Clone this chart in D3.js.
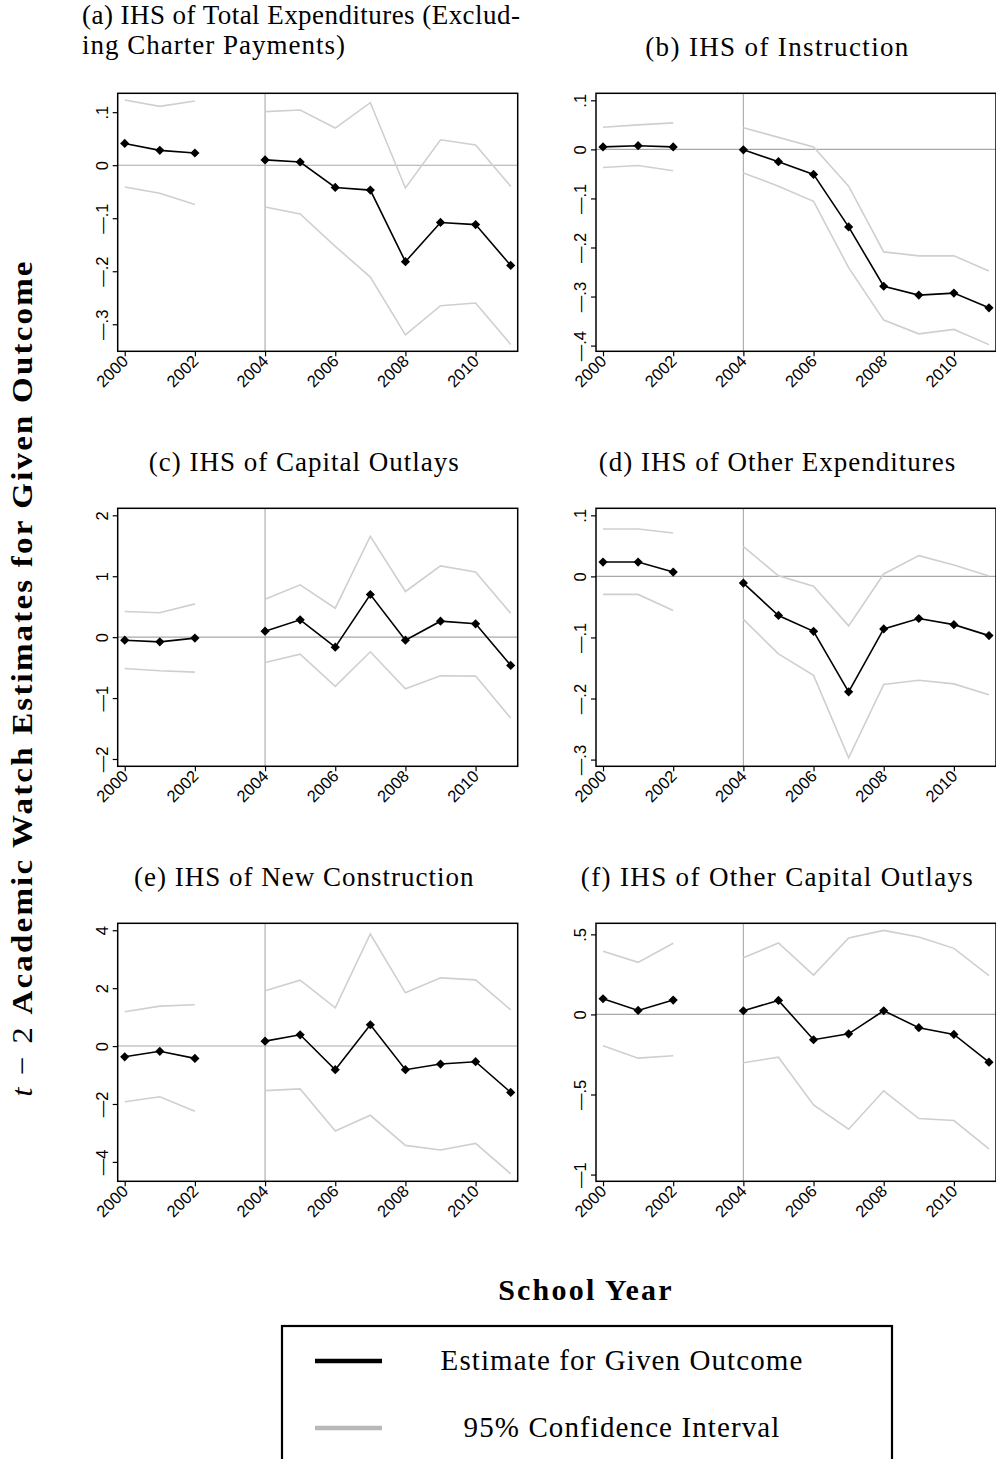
<!DOCTYPE html>
<html>
<head>
<meta charset="utf-8">
<script src="https://cdn.jsdelivr.net/npm/d3@7"></script>
<style>
  html, body { margin: 0; padding: 0; background: #fff; }
  svg { display: block; }
</style>
</head>
<body>
<svg id="chart" width="996" height="1459"></svg>
<script>
// School years in the event-study window (2003 is the omitted base year)
const years = [2000, 2001, 2002, 2004, 2005, 2006, 2007, 2008, 2009, 2010, 2011];
const xTicks = [2000, 2002, 2004, 2006, 2008, 2010];

// (a) IHS of total expenditures (excluding charter payments)
const estA = [0.041, 0.028, 0.023, 0.010, 0.006, -0.042, -0.047, -0.182, -0.108, -0.112, -0.189];
const hiA  = [0.123, 0.111, 0.121, 0.101, 0.104, 0.070, 0.118, -0.043, 0.048, 0.038, -0.040];
const loA  = [-0.041, -0.053, -0.074, -0.079, -0.092, -0.153, -0.211, -0.320, -0.265, -0.260, -0.338];

// (b) IHS of instruction
const estB = [0.005, 0.0075, 0.005, -0.001, -0.025, -0.051, -0.158, -0.279, -0.297, -0.293, -0.323];
const hiB  = [0.045, 0.050, 0.054, 0.044, 0.0245, 0.005, -0.075, -0.209, -0.217, -0.217, -0.248];
const loB  = [-0.037, -0.033, -0.0435, -0.048, -0.075, -0.106, -0.241, -0.348, -0.376, -0.367, -0.398];

// (c) IHS of capital outlays
const estC = [-0.05, -0.077, -0.016, 0.098, 0.284, -0.164, 0.70, -0.05, 0.262, 0.219, -0.464];
const hiC  = [0.42, 0.40, 0.546, 0.623, 0.858, 0.475, 1.656, 0.749, 1.169, 1.071, 0.393];
const loC  = [-0.514, -0.552, -0.574, -0.415, -0.279, -0.809, -0.240, -0.847, -0.634, -0.639, -1.328];

// (d) IHS of other expenditures
const estD = [0.0235, 0.0235, 0.0071, -0.011, -0.064, -0.090, -0.189, -0.086, -0.069, -0.079, -0.097];
const hiD  = [0.0776, 0.0776, 0.071, 0.0486, 0.001, -0.016, -0.081, 0.004, 0.034, 0.0186, 0.0005];
const loD  = [-0.0295, -0.0295, -0.056, -0.0705, -0.127, -0.162, -0.297, -0.177, -0.170, -0.176, -0.194];

// (e) IHS of new construction
const estE = [-0.37, -0.18, -0.425, 0.17, 0.39, -0.816, 0.736, -0.816, -0.62, -0.54, -1.60];
const hiE  = [1.184, 1.38, 1.425, 1.908, 2.276, 1.32, 3.87, 1.84, 2.356, 2.287, 1.253];
const loE  = [-1.92, -1.75, -2.25, -1.54, -1.48, -2.93, -2.39, -3.43, -3.59, -3.36, -4.41];

// (f) IHS of other capital outlays
const estF = [0.098, 0.025, 0.0896, 0.023, 0.0875, -0.158, -0.121, 0.023, -0.083, -0.125, -0.298];
const hiF  = [0.394, 0.325, 0.444, 0.354, 0.446, 0.246, 0.477, 0.525, 0.483, 0.4125, 0.242];
const loF  = [-0.196, -0.273, -0.258, -0.302, -0.267, -0.565, -0.717, -0.477, -0.650, -0.6625, -0.840];

// Panel titles
const titles = [
  ["(a) IHS of Total Expenditures (Exclud-", "ing Charter Payments)"],
  ["(b) IHS of Instruction"],
  ["(c) IHS of Capital Outlays"],
  ["(d) IHS of Other Expenditures"],
  ["(e) IHS of New Construction"],
  ["(f) IHS of Other Capital Outlays"]
];

// y tick values per panel
const yTicksA = [0.1, 0, -0.1, -0.2, -0.3];
const yTicksB = [0.1, 0, -0.1, -0.2, -0.3, -0.4];
const yTicksC = [2, 1, 0, -1, -2];
const yTicksD = [0.1, 0, -0.1, -0.2, -0.3];
const yTicksE = [4, 2, 0, -2, -4];
const yTicksF = [0.5, 0, -0.5, -1];

// y axis extents per panel
const yDomA = [-0.351, 0.1356];
const yDomB = [-0.4116, 0.1143];
const yDomC = [-2.12, 2.115];
const yDomD = [-0.311, 0.1115];
const yDomE = [-4.67, 4.24];
const yDomF = [-1.042, 0.569];

const legendLabels = ["Estimate for Given Outcome", "95% Confidence Interval"];

const panels = [
  { est: estA, hi: hiA, lo: loA, ticks: yTicksA, dom: yDomA },
  { est: estB, hi: hiB, lo: loB, ticks: yTicksB, dom: yDomB },
  { est: estC, hi: hiC, lo: loC, ticks: yTicksC, dom: yDomC },
  { est: estD, hi: hiD, lo: loD, ticks: yTicksD, dom: yDomD },
  { est: estE, hi: hiE, lo: loE, ticks: yTicksE, dom: yDomE },
  { est: estF, hi: hiF, lo: loF, ticks: yTicksF, dom: yDomF }
];

// ---- layout ----
const colX = [117.7, 596];
const rowY = [93.3, 508.3, 923.3];
const plotW = 400, plotH = 258;
const serif = "'Liberation Serif', 'Times New Roman', serif";
const sans = "'Liberation Sans', Arial, Helvetica, sans-serif";
const ciColor = "#cfcfcf";
const refColor = "#a9a9a9";

const svg = d3.select("#chart");

// Stata-style tick labels: no leading zero, long dash for negatives
function fmtTick(v) {
  let s = String(+v.toFixed(3));
  s = s.replace(/^(-?)0\./, "$1.");
  return s.replace("-", "\u2014");
}

const diamond = r => `M0,${-r}L${r},0L0,${r}L${-r},0Z`;

panels.forEach((p, i) => {
  const col = i % 2, row = Math.floor(i / 2);
  const x0 = colX[col], y0 = rowY[row];
  const g = svg.append("g").attr("transform", `translate(${x0},${y0})`);

  const x = d3.scaleLinear().domain([1999.8, 2011.2]).range([0, plotW]);
  const y = d3.scaleLinear().domain(p.dom).range([plotH, 0]);

  // reference lines at zero and at the 2004 break
  g.append("line")
    .attr("x1", 0).attr("x2", plotW)
    .attr("y1", y(0)).attr("y2", y(0))
    .attr("stroke", refColor).attr("stroke-width", 1.1);
  g.append("line")
    .attr("x1", x(2004)).attr("x2", x(2004))
    .attr("y1", 0).attr("y2", plotH)
    .attr("stroke", refColor).attr("stroke-width", 1.1);

  const rows = years.map((yr, k) => ({ yr, est: p.est[k], hi: p.hi[k], lo: p.lo[k] }));
  const segments = [rows.filter(d => d.yr < 2003), rows.filter(d => d.yr > 2003)];

  const lineOf = key => d3.line().x(d => x(d.yr)).y(d => y(d[key]));

  segments.forEach(seg => {
    ["hi", "lo"].forEach(k => {
      g.append("path").datum(seg)
        .attr("d", lineOf(k))
        .attr("fill", "none").attr("stroke", ciColor).attr("stroke-width", 1.6);
    });
    g.append("path").datum(seg)
      .attr("d", lineOf("est"))
      .attr("fill", "none").attr("stroke", "#000").attr("stroke-width", 1.6);
  });

  g.selectAll("path.mk").data(rows).join("path")
    .attr("class", "mk")
    .attr("transform", d => `translate(${x(d.yr)},${y(d.est)})`)
    .attr("d", diamond(4.6))
    .attr("fill", "#000");

  // y axis
  const yAxis = d3.axisLeft(y).tickValues(p.ticks).tickSize(5).tickFormat(fmtTick);
  const ya = g.append("g").call(yAxis);
  ya.select(".domain").remove();
  ya.selectAll(".tick line").attr("stroke", "#000").attr("stroke-width", 1.2);
  ya.selectAll(".tick text")
    .attr("x", null).attr("dy", null)
    .attr("transform", "translate(-10,0) rotate(-90)")
    .attr("text-anchor", "middle")
    .attr("font-family", sans).attr("font-size", 16.5).attr("fill", "#000");

  // x axis
  const xAxis = d3.axisBottom(x).tickValues(xTicks).tickSize(5).tickFormat(d3.format("d"));
  const xa = g.append("g").attr("transform", `translate(0,${plotH})`).call(xAxis);
  xa.select(".domain").remove();
  xa.selectAll(".tick line").attr("stroke", "#000").attr("stroke-width", 1.2);
  xa.selectAll(".tick text")
    .attr("y", null).attr("dy", null)
    .attr("transform", "translate(4,11) rotate(-45)")
    .attr("text-anchor", "end")
    .attr("font-family", sans).attr("font-size", 16.5).attr("fill", "#000");

  // frame
  g.append("rect")
    .attr("x", 0).attr("y", 0).attr("width", plotW).attr("height", plotH)
    .attr("fill", "none").attr("stroke", "#000").attr("stroke-width", 1.5);

  // title
  const t = titles[i];
  if (t.length === 2) {
    svg.append("text")
      .attr("x", 82).attr("font-family", serif).attr("font-size", 27)
      .attr("fill", "#000")
      .selectAll("tspan").data(t).join("tspan")
      .attr("x", 82).attr("y", (d, k) => 24 + k * 30)
      .attr("letter-spacing", (d, k) => k === 0 ? 0.45 : 1)
      .text(d => d);
  } else {
    svg.append("text")
      .attr("x", x0 + plotW / 2 - 13.5 + (col === 1 ? -5 : 0))
      .attr("y", y0 - 37)
      .attr("text-anchor", "middle")
      .attr("font-family", serif).attr("font-size", 27)
      .attr("letter-spacing", col === 1 && row !== 1 ? 1.35 : 1).attr("fill", "#000")
      .text(t[0]);
  }
});

// shared y-axis title
const yTitle = svg.append("text")
  .attr("transform", "translate(32,678) rotate(-90) scale(1.1,1)")
  .attr("text-anchor", "middle")
  .attr("font-family", serif).attr("font-size", 30).attr("letter-spacing", 2)
  .attr("fill", "#000");
yTitle.append("tspan").attr("font-style", "italic").text("t");
yTitle.append("tspan").text(" \u2212 2 ");
yTitle.append("tspan").attr("font-weight", "bold").text("Academic Watch Estimates for Given Outcome");

// shared x-axis title
svg.append("text")
  .attr("x", 586).attr("y", 1300)
  .attr("text-anchor", "middle")
  .attr("font-family", serif).attr("font-size", 30).attr("font-weight", "bold")
  .attr("letter-spacing", 2.2).attr("fill", "#000")
  .text("School Year");

// legend
const lg = svg.append("g");
lg.append("rect")
  .attr("x", 282).attr("y", 1326).attr("width", 610).attr("height", 170)
  .attr("fill", "#fff").attr("stroke", "#000").attr("stroke-width", 2.2);
const legendColors = ["#000", "#b8b8b8"];
legendLabels.forEach((lab, k) => {
  const cy = 1361 + k * 67;
  lg.append("line")
    .attr("x1", 315).attr("x2", 382).attr("y1", cy).attr("y2", cy)
    .attr("stroke", legendColors[k]).attr("stroke-width", 4.5);
  lg.append("text")
    .attr("x", 622).attr("y", cy + 9)
    .attr("text-anchor", "middle")
    .attr("font-family", serif).attr("font-size", 29).attr("letter-spacing", 1.1)
    .attr("fill", "#000")
    .text(lab);
});
</script>
</body>
</html>
